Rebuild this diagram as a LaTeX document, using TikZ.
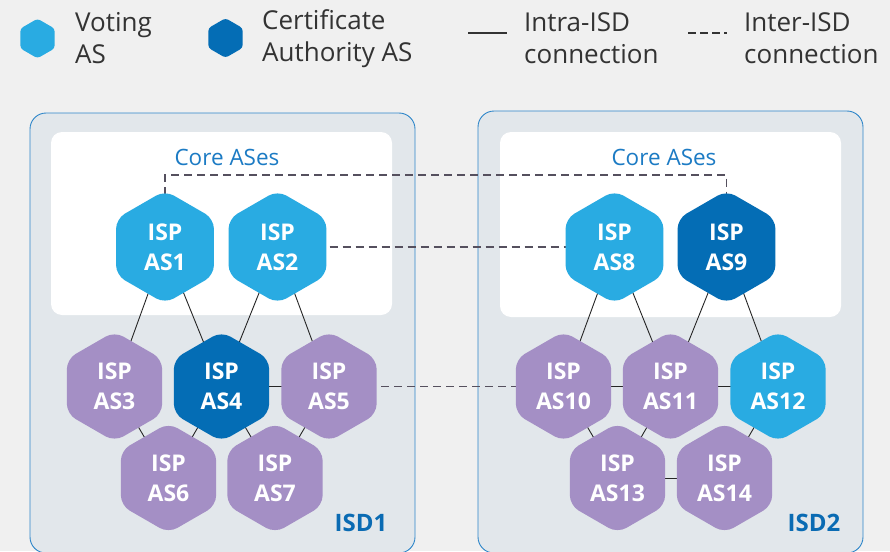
\documentclass[tikz,border=0pt]{standalone}
\usepackage{fontspec}
\setmainfont{Open Sans}
\usetikzlibrary{shapes.geometric}

\definecolor{voteblue}{HTML}{29ABE2}
\definecolor{cablue}{HTML}{046DB5}
\definecolor{isppurple}{HTML}{A48FC5}
\definecolor{isdfill}{HTML}{E2E7EB}
\definecolor{isdborder}{HTML}{2E86C9}
\definecolor{labelblue}{HTML}{1C7BC4}
\definecolor{isdlabel}{HTML}{0A6BB3}
\definecolor{pagebg}{HTML}{F0F0F0}
\definecolor{legendtext}{HTML}{333333}
\definecolor{dashgray}{HTML}{55505E}

\pgfdeclarelayer{boxes}
\pgfdeclarelayer{links}
\pgfsetlayers{boxes,links,main}

\tikzset{
  hexbase/.style={regular polygon, regular polygon sides=6, regular polygon rotate=30,
    inner sep=0pt, outer sep=0pt, draw=none, text=white, align=center,
    font=\fontsize{23}{30}\selectfont\bfseries},
  bighex/.style={hexbase, minimum size=113pt, rounded corners=10pt},
  smallhex/.style={hexbase, minimum size=110pt, rounded corners=10pt},
  voting/.style={fill=voteblue},
  ca/.style={fill=cablue},
  plain/.style={fill=isppurple},
  legendhex/.style={hexbase, minimum size=39.6pt, rounded corners=3pt},
  legendtxt/.style={anchor=west, inner sep=0pt, align=left, text=legendtext,
    font=\fontsize{26}{32}\selectfont},
  isdbox/.style={fill=isdfill, draw=isdborder, line width=0.9pt, rounded corners=16pt},
  corebox/.style={fill=white, draw=none, rounded corners=11pt},
  corelabel/.style={text=labelblue, font=\fontsize{22.5}{27}\selectfont, inner sep=0pt},
  isdname/.style={text=isdlabel, font=\fontsize{24}{28}\selectfont\bfseries, inner sep=0pt},
  intra/.style={draw=black!85, line width=0.9pt},
  inter/.style={draw=dashgray, line width=1.2pt, dash pattern=on 8pt off 5pt},
  legintra/.style={draw=legendtext, line width=1.5pt},
  leginter/.style={draw=legendtext, line width=1.5pt, dash pattern=on 8pt off 4pt},
}

\begin{document}
\begin{tikzpicture}[x=1pt, y=-1pt]
  \useasboundingbox (0,0) rectangle (890,551);

  % ---- page and isolation domains ----
  \begin{pgfonlayer}{boxes}
    \fill[pagebg] (0,0) rectangle (890,551);
    \draw[isdbox] (30,113) rectangle (415,553);
    \draw[isdbox] (478,111) rectangle (863,553);
    \fill[corebox] (51,132) rectangle (392,315);
    \fill[corebox] (500,132) rectangle (841,317);
  \end{pgfonlayer}

  % ---- legend ----
  \node[legendhex, voting] (lvote) at (37.5,38.5) {};
  \node[legendtxt] (tvote) at (75,38.5) {Voting\\AS};
  \node[legendhex, ca] (lca) at (225.5,38) {};
  \node[legendtxt] (tca) at (262,38.5) {Certificate\\Authority AS};
  \coordinate (intraA) at (468,33);
  \coordinate (intraB) at (507,33);
  \draw[legintra] (intraA) -- (intraB);
  \node[legendtxt] (tintra) at (524,38.5) {Intra-ISD\\connection};
  \coordinate (interA) at (688,33);
  \coordinate (interB) at (727,33);
  \draw[leginter] (interA) -- (interB);
  \node[legendtxt] (tinter) at (744,38.5) {Inter-ISD\\connection};

  \node[corelabel] (core1) at (227,157) {Core ASes};
  \node[corelabel] (core2) at (664,157) {Core ASes};
  \node[isdname] (isd1) at (361,523) {ISD1};
  \node[isdname] (isd2) at (814,523) {ISD2};

  % ---- ISD1 ASes ----
  \node[bighex, voting] (AS1) at (165,247) {ISP\\AS1};
  \node[bighex, voting] (AS2) at (277.5,247) {ISP\\AS2};
  \node[smallhex, plain] (AS3) at (114.5,386.5) {ISP\\AS3};
  \node[smallhex, ca] (AS4) at (221.5,386.5) {ISP\\AS4};
  \node[smallhex, plain] (AS5) at (329,386.5) {ISP\\AS5};
  \node[smallhex, plain] (AS6) at (168.5,478) {ISP\\AS6};
  \node[smallhex, plain] (AS7) at (275,478) {ISP\\AS7};

  % ---- ISD2 ASes ----
  \node[bighex, voting] (AS8) at (614.5,247) {ISP\\AS8};
  \node[bighex, ca] (AS9) at (726.5,247) {ISP\\AS9};
  \node[smallhex, plain] (AS10) at (563.5,386.5) {ISP\\AS10};
  \node[smallhex, plain] (AS11) at (670.5,386.5) {ISP\\AS11};
  \node[smallhex, voting] (AS12) at (778,386.5) {ISP\\AS12};
  \node[smallhex, plain] (AS13) at (617.5,478) {ISP\\AS13};
  \node[smallhex, plain] (AS14) at (724.5,478) {ISP\\AS14};

  % ---- links, drawn beneath the ASes ----
  \coordinate (coreline) at (0,175);
  \begin{pgfonlayer}{links}
    \draw[intra] (AS1.center) -- (AS3.center);
    \draw[intra] (AS1.center) -- (AS4.center);
    \draw[intra] (AS2.center) -- (AS4.center);
    \draw[intra] (AS2.center) -- (AS5.center);
    \draw[intra] (AS4.center) -- (AS5.center);
    \draw[intra] (AS3.center) -- (AS6.center);
    \draw[intra] (AS4.center) -- (AS6.center);
    \draw[intra] (AS4.center) -- (AS7.center);
    \draw[intra] (AS5.center) -- (AS7.center);

    \draw[intra] (AS8.center) -- (AS10.center);
    \draw[intra] (AS8.center) -- (AS11.center);
    \draw[intra] (AS9.center) -- (AS11.center);
    \draw[intra] (AS9.center) -- (AS12.center);
    \draw[intra] (AS10.center) -- (AS11.center);
    \draw[intra] (AS11.center) -- (AS12.center);
    \draw[intra] (AS10.center) -- (AS13.center);
    \draw[intra] (AS11.center) -- (AS13.center);
    \draw[intra] (AS12.center) -- (AS14.center);
    \draw[intra] (AS13.center) -- (AS14.center);

    \draw[inter] (AS1.center) -- (AS1.center |- coreline) -| (AS9.center);
    \draw[inter] (AS2.center) -- (AS8.center);
    \draw[inter] (AS5.center) -- (AS10.center);
  \end{pgfonlayer}
\end{tikzpicture}
\end{document}
